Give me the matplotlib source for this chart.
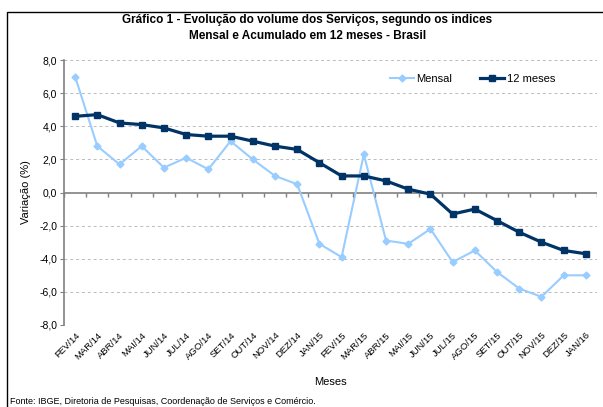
import numpy as np
import matplotlib.pyplot as plt
from matplotlib.patches import Rectangle

plt.rcParams['font.family'] = ['Liberation Sans', 'DejaVu Sans']

meses = ['FEV/14', 'MAR/14', 'ABR/14', 'MAI/14', 'JUN/14', 'JUL/14', 'AGO/14',
         'SET/14', 'OUT/14', 'NOV/14', 'DEZ/14', 'JAN/15', 'FEV/15', 'MAR/15',
         'ABR/15', 'MAI/15', 'JUN/15', 'JUL/15', 'AGO/15', 'SET/15', 'OUT/15',
         'NOV/15', 'DEZ/15', 'JAN/16']
mensal = [7.0, 2.8, 1.7, 2.8, 1.5, 2.1, 1.4, 3.1, 2.0, 1.0, 0.5, -3.1, -3.9, 2.3,
          -2.9, -3.1, -2.2, -4.2, -3.5, -4.8, -5.8, -6.3, -5.0, -5.0]
doze_meses = [4.6, 4.7, 4.2, 4.1, 3.9, 3.5, 3.4, 3.4, 3.1, 2.8, 2.6, 1.8, 1.0, 1.0,
              0.7, 0.2, -0.1, -1.3, -1.0, -1.7, -2.4, -3.0, -3.5, -3.7]
yticks = [8, 6, 4, 2, 0, -2, -4, -6, -8]

fig = plt.figure(figsize=(6.03, 4.07), dpi=100)
fig.patches.append(Rectangle((7 / 603, -0.1), 1.2, 1 - 12 / 407 + 0.1,
                             transform=fig.transFigure, fill=False,
                             edgecolor='black', linewidth=1.0))

ax = fig.add_axes([64 / 603, 1 - 325 / 407, 533 / 603, 265 / 407])
x = np.arange(len(meses))

ax.plot(x, mensal, color='#99CCFF', marker='D', markersize=3.5, linewidth=1.5,
        label='Mensal')
ax.plot(x, doze_meses, color='#003366', marker='s', markersize=4.2, linewidth=2.3,
        label='12 meses')

ax.set_xlim(-0.5, len(meses) - 0.5)
ax.set_ylim(-8, 8)
ax.set_yticks(yticks)
ax.set_yticklabels([f'{v:.1f}'.replace('.', ',') for v in yticks], fontsize=7.5)
for v in yticks:
    if v != 0:
        ax.axhline(v, color='#BBBBBB', linestyle=(0, (3, 3)), linewidth=0.7, zorder=0)
ax.axhline(0, color='#808080', linewidth=1.2, zorder=1)
ax.vlines(np.arange(len(meses) + 1) - 0.5, -0.3, 0, color='#808080', linewidth=1.0)

ax.set_xticks(x)
ax.set_xticklabels(meses, rotation=45, ha='right', rotation_mode='anchor', fontsize=6.8)
ax.tick_params(axis='x', length=0, pad=4)
ax.tick_params(axis='y', length=3, color='#808080', pad=2)

for s in ['top', 'right', 'bottom']:
    ax.spines[s].set_visible(False)
ax.spines['left'].set_color('#808080')
ax.spines['left'].set_linewidth(1.2)

ax.set_ylabel('Variação (%)', fontsize=8, labelpad=6)
ax.set_xlabel('Meses', fontsize=8, labelpad=11)

ax.legend(loc='upper right', bbox_to_anchor=(0.94, 0.985), ncol=2, frameon=False,
          fontsize=8, handlelength=2.2, handletextpad=0.2, columnspacing=2.5)

fig.text(0.51, 1 - 28 / 407, 'Gráfico 1 - Evolução do volume dos Serviços, segundo os indices\n'
         'Mensal e Acumulado em 12 meses - Brasil', ha='center', va='center',
         fontsize=8.5, fontweight='bold', linespacing=1.4)
fig.text(10 / 603, 1 - 401 / 407, 'Fonte: IBGE, Diretoria de Pesquisas, Coordenação de Serviços e Comércio.',
         fontsize=6.5, va='center')

fig.savefig('out.png', dpi=100)
